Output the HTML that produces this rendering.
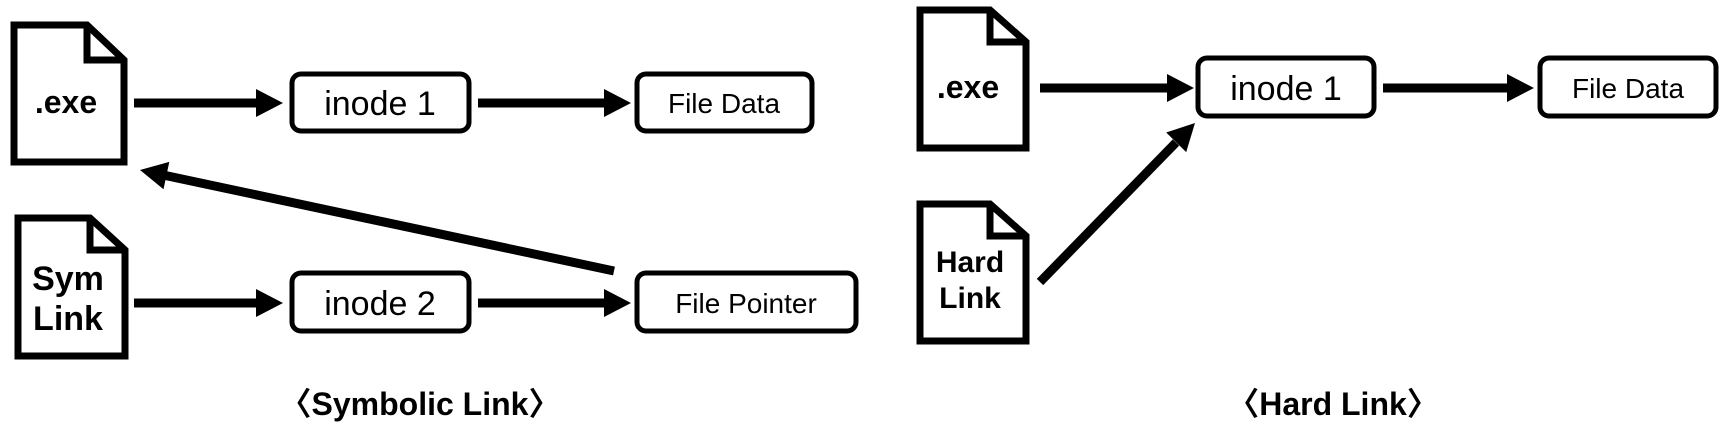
<!DOCTYPE html>
<html><head><meta charset="utf-8"><style>
html,body{margin:0;padding:0;background:#fff;width:1729px;height:435px;overflow:hidden}
svg{display:block}
text{font-family:"Liberation Sans","Noto Sans CJK KR",sans-serif;fill:#000}
</style></head><body>
<svg width="1729" height="435" viewBox="0 0 1729 435" xmlns="http://www.w3.org/2000/svg">
<g fill="none" stroke="#000" stroke-width="7" stroke-linejoin="miter">
<path d="M14,25 H87 L124,60 V162 H14 Z"/><path d="M87,25 V60 H124"/>
<path d="M18,218 H90 L125,250 V356 H18 Z"/><path d="M90,218 V250 H125"/>
<path d="M920,10 H990 L1026,42 V148 H920 Z"/><path d="M990,10 V42 H1026"/>
<path d="M920,204 H990 L1026,236 V341 H920 Z"/><path d="M990,204 V236 H1026"/>
</g>
<g fill="none" stroke="#000" stroke-width="5">
<rect x="292" y="74" width="177" height="57" rx="9"/>
<rect x="637" y="74" width="175" height="57" rx="9"/>
<rect x="292" y="273" width="177" height="58" rx="9"/>
<rect x="637" y="273" width="219" height="58" rx="9"/>
<rect x="1198" y="58" width="176" height="58" rx="9"/>
<rect x="1540" y="58" width="176" height="58" rx="9"/>
</g>
<g stroke="#000" stroke-width="9">
<line x1="134" y1="103" x2="258" y2="103"/>
<line x1="478" y1="103" x2="606" y2="103"/>
<line x1="134" y1="303" x2="258" y2="303"/>
<line x1="478" y1="303" x2="606" y2="303"/>
<line x1="614" y1="271" x2="166" y2="175.6"/>
<line x1="1040" y1="88" x2="1169" y2="88"/>
<line x1="1383" y1="88" x2="1509" y2="88"/>
<line x1="1040" y1="282" x2="1176" y2="142.5"/>
</g>
<g fill="#000">
<polygon points="256,89 283,103 256,117"/>
<polygon points="604,89 631,103 604,117"/>
<polygon points="256,289 283,303 256,317"/>
<polygon points="604,289 631,303 604,317"/>
<polygon points="140,170 169.3,161.9 163.5,189.3"/>
<polygon points="1167,74 1194,88 1167,102"/>
<polygon points="1507,74 1534,88 1507,102"/>
<polygon points="1195,123 1186.2,152.1 1166.2,132.5"/>
</g>
<g font-weight="bold" font-size="32" text-anchor="middle">
<text x="66" y="113">.exe</text>
<text x="968" y="98">.exe</text>
<text x="68" y="290" font-size="34">Sym</text>
<text x="68" y="330" font-size="34">Link</text>
<text x="970" y="272" font-size="30">Hard</text>
<text x="970" y="308" font-size="30">Link</text>
<text x="420" y="415" font-size="32">〈Symbolic Link〉</text>
<text x="1333" y="415" font-size="32">〈Hard Link〉</text>
</g>
<g font-size="34" text-anchor="middle">
<text x="380" y="115">inode 1</text>
<text x="380" y="315">inode 2</text>
<text x="1286" y="100">inode 1</text>
<text x="724" y="113" font-size="28">File Data</text>
<text x="746" y="313" font-size="28">File Pointer</text>
<text x="1628" y="98" font-size="28">File Data</text>
</g>
</svg>
</body></html>
